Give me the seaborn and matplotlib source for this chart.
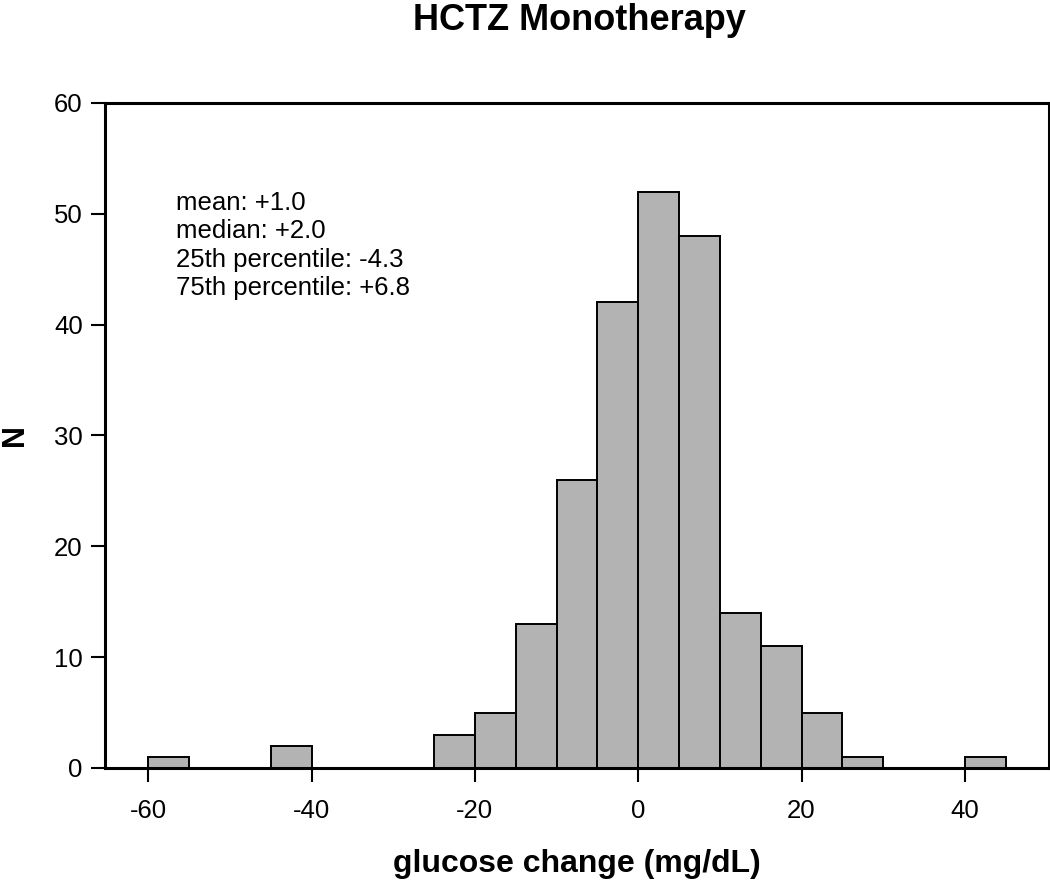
import matplotlib
matplotlib.use("Agg")
import matplotlib.pyplot as plt
import seaborn as sns
import numpy as np

# Data: bin left edges (mg/dL) and counts
bin_left = [-60, -55, -50, -45, -40, -35, -30, -25, -20, -15, -10, -5, 0, 5, 10, 15, 20, 25, 30, 35, 40]
counts   = [1, 0, 0, 2, 0, 0, 0, 3, 5, 13, 26, 42, 52, 48, 14, 11, 5, 1, 0, 0, 1]
bin_width = 5
x_ticks = [-60, -40, -20, 0, 20, 40]
y_ticks = [0, 10, 20, 30, 40, 50, 60]
stats_lines = ["mean: +1.0", "median: +2.0", "25th percentile: -4.3", "75th percentile: +6.8"]

sns.set_style("white")
plt.rcParams['font.family'] = ['Liberation Sans', 'DejaVu Sans']
plt.rcParams['text.color'] = 'black'
plt.rcParams['axes.labelcolor'] = 'black'

fig = plt.figure(figsize=(10.5, 8.8), dpi=100)
ax = fig.add_axes([0.1, 0.1273, 0.899, 0.7557])

edges = list(bin_left) + [bin_left[-1] + bin_width]
centers = [b + bin_width / 2 for b in bin_left]
sns.histplot(x=centers, weights=counts, bins=edges, ax=ax,
             color="#b3b3b3", edgecolor="black", linewidth=1.4, alpha=1)

ax.set_xlim(-65.3, 50.3)
ax.set_ylim(0, 60)
ax.set_xticks(x_ticks)
ax.set_xticklabels([str(t) for t in x_ticks])
ax.set_yticks(y_ticks)
ax.tick_params(axis='both', direction='out', length=10, width=1.5, labelsize=18.5,
               colors='black', bottom=True, left=True)
ax.tick_params(axis='x', pad=12)
ax.tick_params(axis='y', pad=6)
for s in ax.spines.values():
    s.set_visible(True)
    s.set_color('black')
    s.set_linewidth(2.2)

ax.set_xlabel("glucose change (mg/dL)", fontsize=23, fontweight='bold')
ax.xaxis.set_label_coords(0.5, -0.122)
ax.set_ylabel("N", fontsize=22, fontweight='bold')
ax.yaxis.set_label_coords(-0.079, 0.5)
fig.suptitle("HCTZ Monotherapy", fontsize=26, fontweight='bold', x=0.552, y=0.997)

y0, step = 50.35, 2.553
for i, line in enumerate(stats_lines):
    ax.text(-56.6, y0 - i * step, line, fontsize=18.5, va='baseline', ha='left')

fig.savefig("out.png", dpi=100)
